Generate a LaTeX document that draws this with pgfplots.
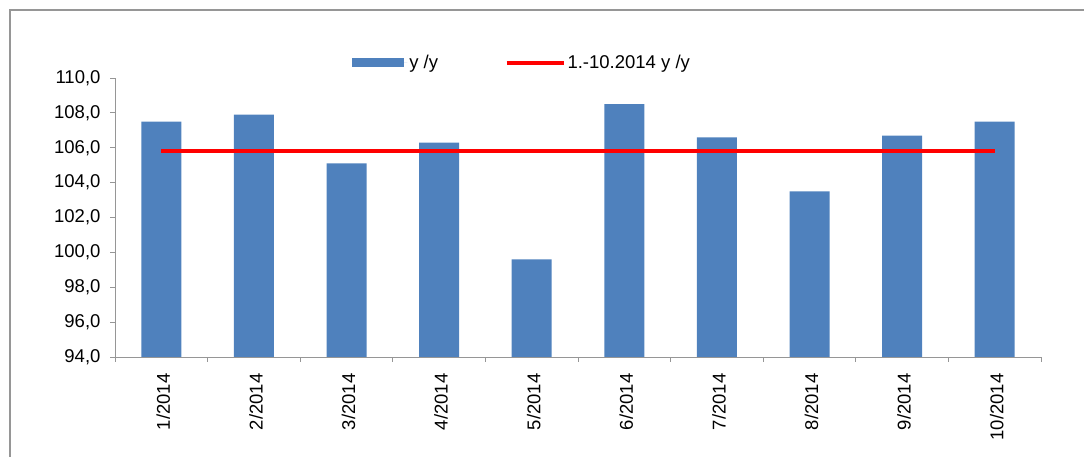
\documentclass[border=0pt]{standalone}
\usepackage{fontspec}
\setmainfont{Liberation Sans}
\usepackage{pgfplots}
\pgfplotsset{compat=1.18}
\definecolor{barblue}{RGB}{79,129,189}
\definecolor{axgray}{RGB}{150,150,150}
\begin{document}
\begin{tikzpicture}[x=1pt,y=1pt]
\useasboundingbox (0,0) rectangle (1084,457);
\draw[axgray, line width=1.3pt] (10,0) -- (10,447) -- (1084,447);
\begin{axis}[
  at={(115pt,100pt)}, anchor=south west,
  scale only axis, width=926pt, height=279pt,
  ymin=94, ymax=110, ytick distance=2,
  xmin=0.5, xmax=10.5,
  axis lines=left,
  axis line style={draw=axgray, -, line width=0.8pt},
  tick style={draw=axgray, line width=0.8pt},
  tick align=outside,
  major tick length=5pt, minor tick length=5pt,
  xtick={1,...,10},
  xticklabels={1/2014,2/2014,3/2014,4/2014,5/2014,6/2014,7/2014,8/2014,9/2014,10/2014},
  major x tick style={draw=none},
  minor xtick={0.5,1.5,...,10.5},
  tick label style={font=\fontsize{18.5}{21}\selectfont},
  xticklabel style={rotate=90, anchor=east, xshift=-8pt, yshift=-2pt},
  yticklabel style={xshift=-6pt, /pgf/number format/.cd, fixed, fixed zerofill, precision=1, use comma, assume math mode=true},
  legend columns=2,
  legend style={draw=none, fill=none, at={(axis description cs:0.256,1.054)}, anchor=west, inner sep=0pt,
    font=\fontsize{18.5}{21}\selectfont,
    /tikz/every even column/.append style={column sep=65pt}},
  clip=false,
]
\addplot[ybar, bar width=40pt, fill=barblue, draw=none,
  legend image code/.code={\fill[barblue] (0pt,-4.5pt) rectangle (52pt,4.5pt); \path (0pt,0pt) -- (55pt,0pt);}]
  coordinates {(1,107.5) (2,107.9) (3,105.1) (4,106.3) (5,99.6) (6,108.5) (7,106.6) (8,103.5) (9,106.7) (10,107.5)};
\addlegendentry{y /y}
\addplot[red, line width=3.5pt,
  legend image code/.code={\draw[red, line width=3.5pt] (0pt,0pt) -- (55pt,0pt); \path (0pt,0pt) -- (57pt,0pt);}]
  coordinates {(1,105.8) (2,105.8) (3,105.8) (4,105.8) (5,105.8) (6,105.8) (7,105.8) (8,105.8) (9,105.8) (10,105.8)};
\addlegendentry{1.-10.2014 y /y}
\end{axis}
\end{tikzpicture}
\end{document}
